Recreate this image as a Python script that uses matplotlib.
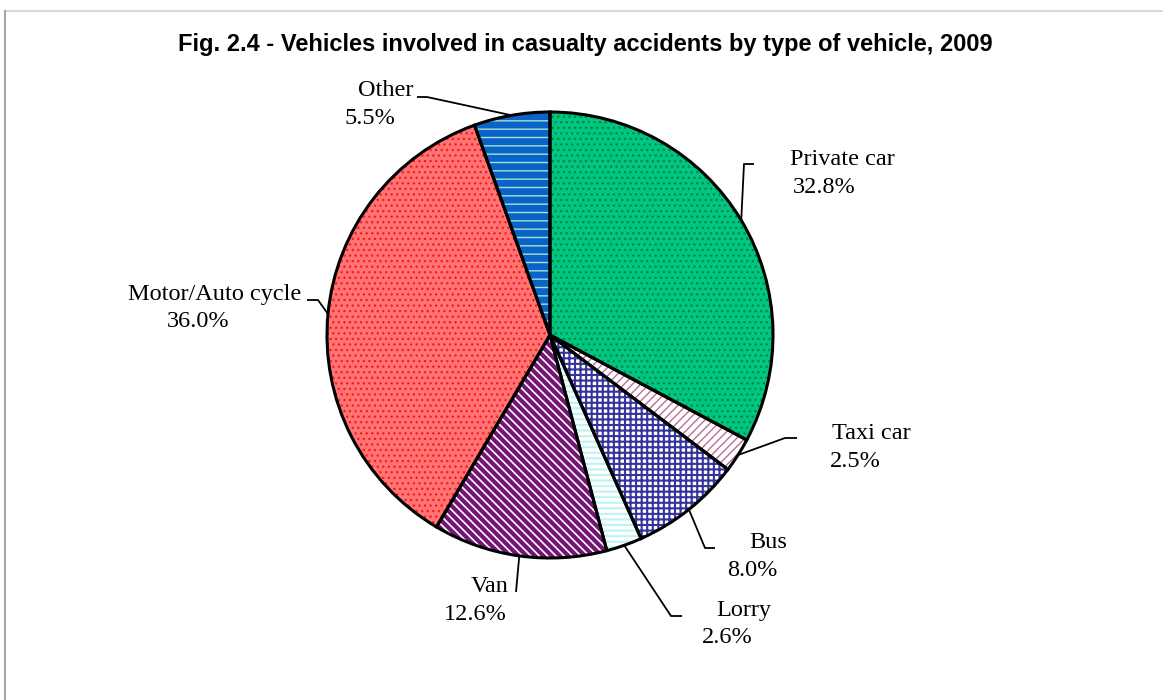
import matplotlib
matplotlib.use("Agg")
import matplotlib.pyplot as plt
import numpy as np
from matplotlib.lines import Line2D

# data, clockwise from 12 o'clock
categories = ["Private car", "Taxi car", "Bus", "Lorry", "Van", "Motor/Auto cycle", "Other"]
shares = [32.8, 2.5, 8.0, 2.6, 12.6, 36.0, 5.5]

# fill styles: face colour, hatch, hatch colour, hatch width
faces = ["#00c684", "white", "white", "white", "#741674", "#ff7575", "#0a64c8"]
hatches = ["...", "////", "+++", "---", "\\\\\\\\", "...", "--"]
hatch_cols = ["#008a3a", "#b86f95", "#34349c", "#bdf3f3", "white", "#ff1a1a", "#a8e0d8"]
hatch_lws = [1.0, 1.0, 1.5, 1.5, 1.2, 1.0, 1.0]

W, H = 1163, 700
CX, CY, R = 550, 335, 223

# label placement in pixels (centre x, baseline y for line1 / line2)
lab1 = [(842, 165), (871, 439), (768, 548), (744, 616), (490, 592), (215, 300), (386, 96)]
lab2 = [(824, 193), (855, 467), (752, 576), (727, 643), (475, 620), (198, 327), (370, 124)]
# leader elbows: (elbow point, outer end)
elbows = [((744, 164), (754, 164)), ((785, 438), (797, 438)), ((705, 548), (715, 548)),
          ((671, 616), (682, 616)), ((516, 592), (516, 592)), ((318, 300), (307, 300)),
          ((427, 97), (417, 97))]

def Y(y):
    return H - y

plt.rcParams['hatch.linewidth'] = 1.0
fig = plt.figure(figsize=(W / 100, H / 100), dpi=100)
ax = fig.add_axes([0, 0, 1, 1])

wedges, _ = ax.pie(shares, startangle=90, counterclock=False, center=(CX, Y(CY)), radius=R,
                   wedgeprops=dict(linewidth=0))
for w, fc, h, hc, hl in zip(wedges, faces, hatches, hatch_cols, hatch_lws):
    w.set_facecolor(fc)
    w.set_hatch(h)
    w.set_edgecolor(hc)
    w.set_linewidth(0)
    if hasattr(w, "set_hatch_linewidth"):
        w.set_hatch_linewidth(hl)

outline, _ = ax.pie(shares, startangle=90, counterclock=False, center=(CX, Y(CY)), radius=R,
                    colors=["none"] * len(shares),
                    wedgeprops=dict(linewidth=2.2, edgecolor="black", joinstyle="miter"))

ax.set_xlim(0, W)
ax.set_ylim(0, H)
ax.set_aspect("equal", adjustable="box")
ax.axis("off")

font = "Liberation Serif"
for i, w in enumerate(wedges):
    mid = np.deg2rad((w.theta1 + w.theta2) / 2)
    ax_x = CX + R * np.cos(mid)
    ax_y = Y(CY) + R * np.sin(mid)
    (ex, ey), (ox, oy) = elbows[i]
    ax.plot([ax_x, ex, ox], [ax_y, Y(ey), Y(oy)], color="black", lw=1.3, solid_capstyle="butt")
    ax.text(lab1[i][0], Y(lab1[i][1]), categories[i], ha="center", va="baseline",
            family=font, fontsize=17.5)
    ax.text(lab2[i][0], Y(lab2[i][1]), f"{shares[i]:.1f}%", ha="center", va="baseline",
            family=font, fontsize=17.5)

fig.text(585 / W, 1 - 45 / H, "Fig. 2.4 - Vehicles involved in casualty accidents by type of vehicle, 2009",
         ha="center", va="center", family="Liberation Sans", fontweight="bold", fontsize=17)

# chart-area border (only top and left edges fall inside the image)
fig.add_artist(Line2D([5 / W, 1], [1 - 11 / H, 1 - 11 / H], transform=fig.transFigure,
                      color="#d9d9d9", lw=1.5))
fig.add_artist(Line2D([5 / W, 5 / W], [0, 1 - 11 / H], transform=fig.transFigure,
                      color="#a6a6a6", lw=1.5))

fig.savefig("out.png", dpi=100)
